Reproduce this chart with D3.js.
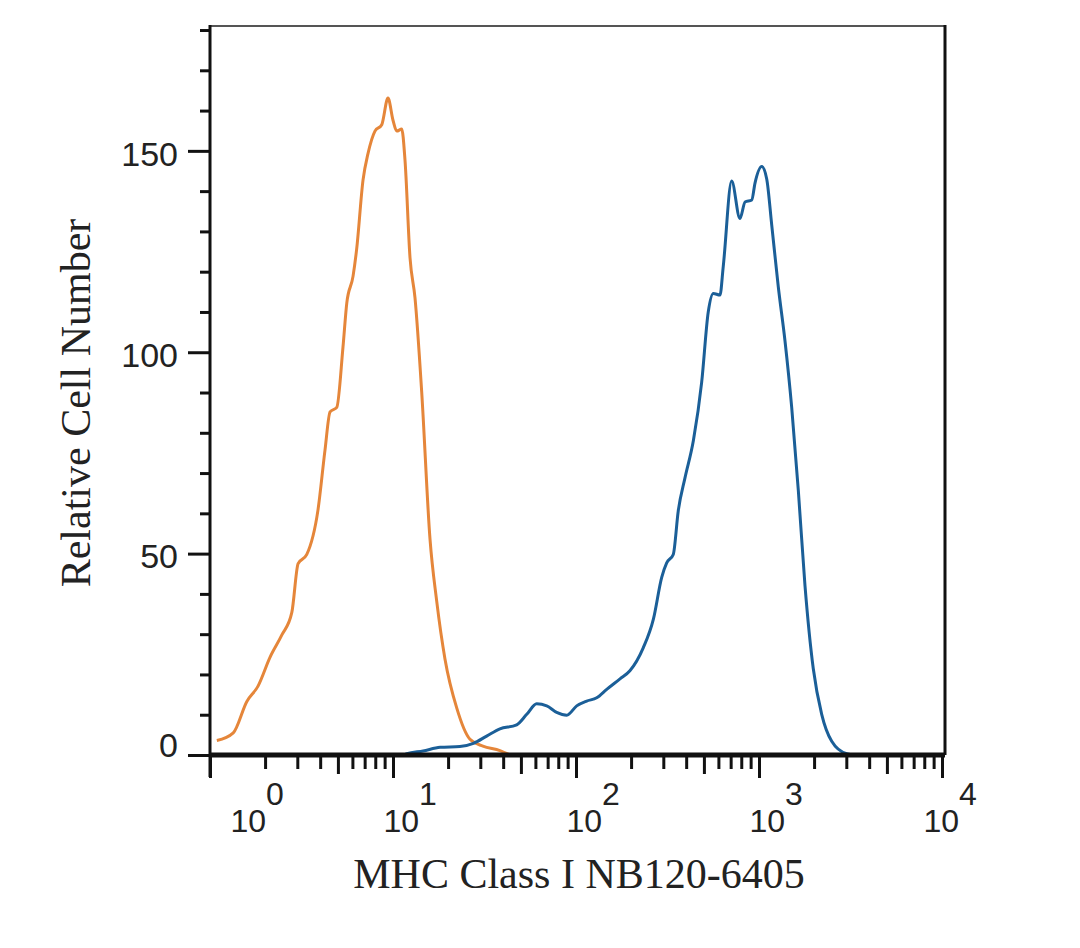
<!DOCTYPE html>
<html>
<head>
<meta charset="utf-8">
<script src="https://cdn.jsdelivr.net/npm/d3@7"></script>
<style>
  body { margin: 0; background: #fff; }
  svg { display: block; }
</style>
</head>
<body>
<div id="chart"></div>
<script>
// isotype control (orange) and MHC Class I stained (blue) histograms
var isoX = [1.09, 1.34, 1.59, 1.83, 2.13, 2.47, 2.80, 3.03, 3.38, 3.89, 4.25, 4.53, 4.93, 5.33, 5.59,
            6.05, 6.33, 6.86, 7.30, 7.97, 8.68, 9.39, 10.0, 10.48, 11.16, 11.63, 12.39, 13.19, 14.35,
            15.93, 17.33, 19.24, 22.29, 26.35, 31.0, 38.4, 43.6];
var isoY = [3.6, 5.5, 13.3, 17.1, 24.3, 29.8, 35.4, 47.5, 49.8, 60.8, 75.7, 85.2, 86.3, 101.3, 112.2,
            118.9, 125.6, 142.8, 149.3, 154.9, 156.5, 163.1, 157.6, 154.9, 155.4, 147.7, 123.4, 113.5, 90.1,
            53.6, 38.2, 23.8, 11.7, 3.9, 2.2, 1.1, 0];

var mhcX = [11.5, 11.9, 14.6, 18.1, 23.2, 27.5, 32.5, 38.4, 47.4, 53.8, 61.0, 69.2, 78.4, 89.0, 100.9,
            114.4, 129.8, 147.2, 174, 197, 233, 265, 294, 313, 340, 362, 394, 438, 486, 528, 563, 612,
            638, 709, 787, 839, 913, 951, 1035, 1102, 1173, 1275, 1387, 1509, 1640, 1784, 1980, 2201,
            2497, 3014, 3350];
var mhcY = [0, 0.3, 1.0, 1.9, 2.1, 2.9, 4.7, 6.5, 7.5, 10.1, 12.7, 12.2, 10.6, 9.9, 12.2,
            13.4, 14.2, 16.3, 18.9, 20.9, 26.6, 33.8, 44.1, 47.7, 49.8, 60.6, 68.8, 78.1, 92.5, 110.0, 114.6, 114.2,
            121.4, 142.5, 133.2, 137.3, 137.8, 142.0, 146.1, 143.0, 131.7, 116.2, 102.8, 86.3, 65.7, 42.0, 21.4, 10.1,
            3.4, 0.3, 0];

var yMajor = [0, 50, 100, 150];
var xDecades = [0, 1, 2, 3, 4];
var xTitle = "MHC Class I NB120-6405";
var yTitle = "Relative Cell Number";

var width = 1080, height = 948;
var plotL = 210, plotR = 942, plotT = 26, plotB = 755;

var svg = d3.select("#chart").append("svg")
    .attr("width", width)
    .attr("height", height);

svg.append("rect").attr("width", width).attr("height", height).attr("fill", "#fff");

var x = d3.scaleLog().domain([1, 10000]).range([plotL, plotR]);
var y = d3.scaleLinear().domain([0, 181]).range([plotB, plotT]);

// minor ticks
var xMinor = [], xMid = [];
xDecades.slice(0, -1).forEach(function(p) {
    [2, 3, 4, 6, 7, 8, 9].forEach(function(m) { xMinor.push(m * Math.pow(10, p)); });
    xMid.push(5 * Math.pow(10, p));
});
var yMinor = d3.range(10, 181, 10).filter(function(v) { return v % 50 != 0; });

function styleAxis(g, w) {
    g.select(".domain").remove();
    g.selectAll(".tick line").attr("stroke", "#111").attr("stroke-width", w);
}

svg.append("g")
    .attr("transform", "translate(0," + plotB + ")")
    .call(d3.axisBottom(x).tickValues(xMinor).tickSize(14).tickFormat(""))
    .call(styleAxis, 3);
svg.append("g")
    .attr("transform", "translate(0," + plotB + ")")
    .call(d3.axisBottom(x).tickValues(xMid).tickSize(19).tickFormat(""))
    .call(styleAxis, 3);

var xMajorG = svg.append("g")
    .attr("transform", "translate(0," + plotB + ")")
    .call(d3.axisBottom(x).tickValues(xDecades.map(function(p) { return Math.pow(10, p); })).tickSize(23).tickFormat(""))
    .call(styleAxis, 3);

// 10^n labels with real superscripts
xMajorG.selectAll(".tick").each(function(d, i) {
    var shift = i == 0 ? 20 : (i == xDecades.length - 1 ? -19 : -10);
    var t = d3.select(this).select("text")
        .attr("x", shift)
        .attr("y", 77)
        .attr("dy", null)
        .attr("text-anchor", "start")
        .attr("fill", "#222")
        .style("font-family", "'Liberation Sans', Arial, sans-serif")
        .style("font-size", "32px");
    t.append("tspan").text("10");
    t.append("tspan").attr("dy", -27).text(xDecades[i]);
});

svg.append("g")
    .attr("transform", "translate(" + plotL + ",0)")
    .call(d3.axisLeft(y).tickValues(yMinor).tickSize(10).tickFormat(""))
    .call(styleAxis, 3);

svg.append("g")
    .attr("transform", "translate(" + plotL + ",0)")
    .call(d3.axisLeft(y).tickValues(yMajor).tickSize(22).tickPadding(10))
    .call(styleAxis, 3)
    .call(function(g) {
        g.selectAll(".tick text")
            .attr("fill", "#222")
            .attr("dy", function(d) { return d == 0 ? "0.05em" : "0.42em"; })
            .style("font-family", "'Liberation Sans', Arial, sans-serif")
            .style("font-size", "34px");
    });

// frame
svg.append("line").attr("x1", plotL).attr("x2", plotR + 3).attr("y1", plotT).attr("y2", plotT)
    .attr("stroke", "#555").attr("stroke-width", 2);
svg.append("line").attr("x1", plotR + 3).attr("x2", plotR + 3).attr("y1", plotT - 1).attr("y2", plotB)
    .attr("stroke", "#111").attr("stroke-width", 3);
svg.append("line").attr("x1", plotL).attr("x2", plotL).attr("y1", plotT - 1).attr("y2", plotB + 22)
    .attr("stroke", "#111").attr("stroke-width", 3);

// histograms
var line = d3.line()
    .x(function(d) { return x(d[0]); })
    .y(function(d) { return y(d[1]); })
    .curve(d3.curveMonotoneX);

svg.append("path")
    .datum(d3.zip(isoX, isoY))
    .attr("fill", "none")
    .attr("stroke", "#e5863a")
    .attr("stroke-width", 3)
    .attr("d", line);

svg.append("path")
    .datum(d3.zip(mhcX, mhcY))
    .attr("fill", "none")
    .attr("stroke", "#1b5f98")
    .attr("stroke-width", 3)
    .attr("d", line);

svg.append("line").attr("x1", plotL).attr("x2", plotR + 3).attr("y1", plotB).attr("y2", plotB)
    .attr("stroke", "#111").attr("stroke-width", 5);

// titles
svg.append("text")
    .attr("x", 579).attr("y", 888)
    .attr("text-anchor", "middle")
    .attr("fill", "#222")
    .style("font-family", "'Liberation Serif', 'Times New Roman', serif")
    .style("font-size", "42px")
    .text(xTitle);

svg.append("text")
    .attr("transform", "translate(90,403) rotate(-90)")
    .attr("text-anchor", "middle")
    .attr("fill", "#222")
    .style("font-family", "'Liberation Serif', 'Times New Roman', serif")
    .style("font-size", "42px")
    .text(yTitle);
</script>
</body>
</html>
